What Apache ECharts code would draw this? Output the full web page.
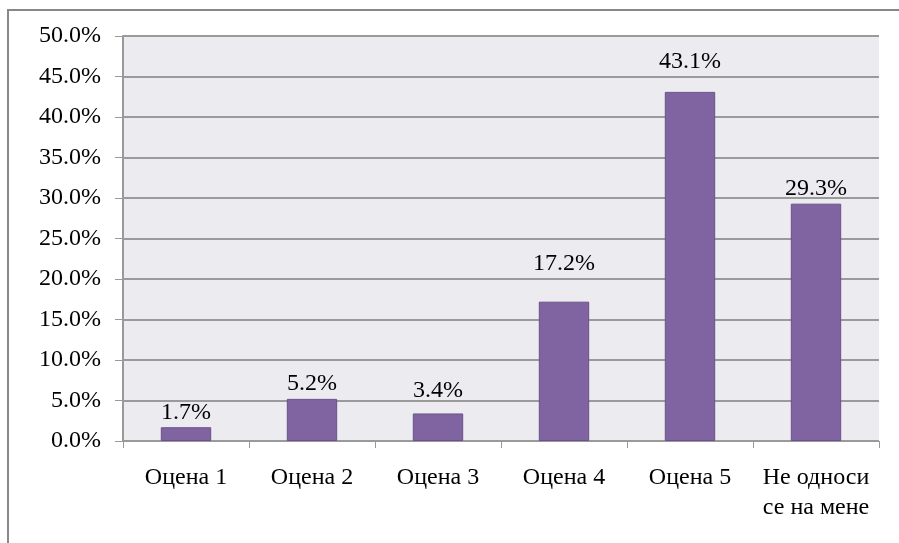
<!DOCTYPE html>
<html>
<head>
<meta charset="utf-8">
<script src="https://cdn.jsdelivr.net/npm/echarts@6/dist/echarts.min.js"></script>
<style>
  html, body { margin: 0; padding: 0; background: #fff; }
  #chart { width: 899px; height: 543px; }
</style>
</head>
<body>
<div id="chart"></div>
<script>
var categories = ['Оцена 1', 'Оцена 2', 'Оцена 3', 'Оцена 4', 'Оцена 5', 'Не односи\nсе на мене'];
var values = [1.7, 5.2, 3.4, 17.2, 43.1, 29.3];

// how far each value label sits above its bar (px)
var labelGaps = [3, 3, 11, 26, 18, 3];

var font = '"Liberation Serif", "Times New Roman", serif';

var myChart = echarts.init(document.getElementById('chart'));
var option = {
    backgroundColor: '#ffffff',
    animation: false,
    grid: {
        left: 123,
        right: 20,
        top: 36,
        bottom: 102,
        show: true,
        backgroundColor: '#ecebf0',
        borderWidth: 0
    },
    graphic: [{
        type: 'rect',
        shape: { x: 8, y: 10, width: 1000, height: 600 },
        style: { fill: 'none', stroke: '#888888', lineWidth: 2 },
        silent: true
    }],
    xAxis: {
        type: 'category',
        data: categories,
        axisLine: { lineStyle: { color: '#999999', width: 1 } },
        axisTick: { show: true, length: 7, lineStyle: { color: '#999999' } },
        axisLabel: {
            interval: 0,
            color: '#000',
            fontFamily: font,
            fontSize: 24,
            margin: 22,
            lineHeight: 30,
            verticalAlign: 'top'
        }
    },
    yAxis: {
        type: 'value',
        min: 0,
        max: 50,
        interval: 5,
        axisLine: { show: true, lineStyle: { color: '#999999', width: 2 } },
        axisTick: { show: true, length: 8, lineStyle: { color: '#999999' } },
        splitLine: { show: true, lineStyle: { color: '#9a9a9a', width: 2 } },
        axisLabel: {
            color: '#000',
            fontFamily: font,
            fontSize: 24,
            margin: 22,
            formatter: function (v) { return v.toFixed(1) + '%'; }
        }
    },
    series: [{
        type: 'bar',
        data: values.map(function (v, i) {
            return { value: v, label: { distance: labelGaps[i] } };
        }),
        barWidth: '40%',
        itemStyle: {
            color: '#8064a2',
            borderColor: '#6b5189',
            borderWidth: 1
        },
        label: {
            show: true,
            position: 'top',
            color: '#000',
            fontFamily: font,
            fontSize: 24,
            formatter: function (p) { return p.value.toFixed(1) + '%'; }
        }
    }]
};
myChart.setOption(option);
</script>
</body>
</html>
